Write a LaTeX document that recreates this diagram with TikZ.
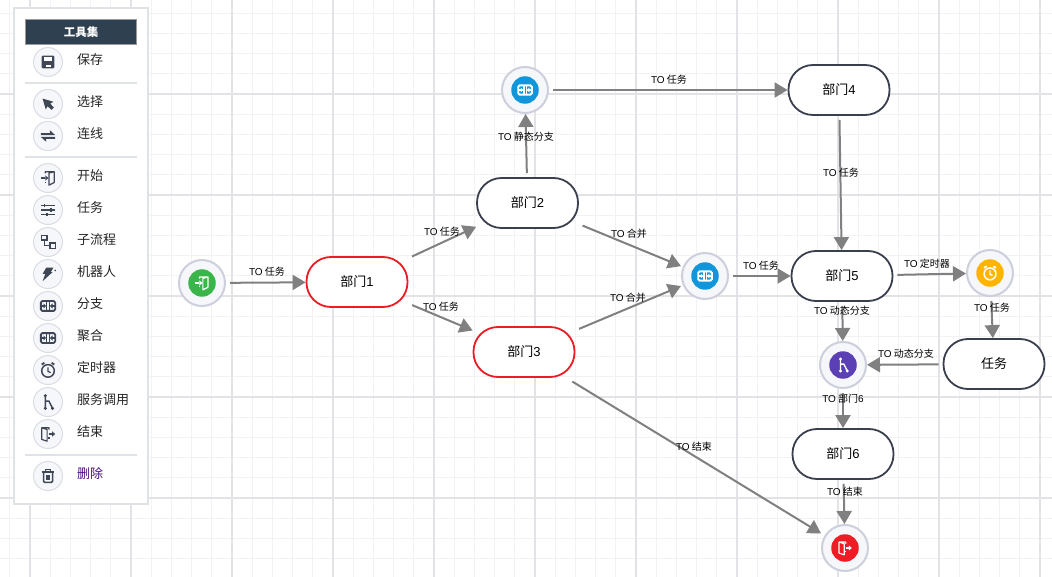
\documentclass[tikz,border=0pt]{standalone}
\usepackage{fontspec}
\setmainfont{Noto Sans CJK SC}
\newfontfamily\latf{Liberation Sans}
\usetikzlibrary{arrows.meta}
\definecolor{gridminor}{HTML}{F2F2F6}
\definecolor{gridmajor}{HTML}{E2E2E7}
\definecolor{panelline}{HTML}{DFE2E7}
\definecolor{headbg}{HTML}{2F4050}
\definecolor{ringline}{HTML}{CDD0DC}
\definecolor{toolline}{HTML}{DADCE4}
\definecolor{ringfill}{HTML}{F6F7FA}
\definecolor{icondark}{HTML}{3F4656}
\definecolor{deptline}{HTML}{3A3F4E}
\definecolor{deptred}{HTML}{EC1C24}
\definecolor{conncol}{HTML}{808080}
\definecolor{cgreen}{HTML}{39B54A}
\definecolor{cblue}{HTML}{1296DB}
\definecolor{cpurple}{HTML}{5B3FB5}
\definecolor{camber}{HTML}{FFB400}
\definecolor{cred}{HTML}{EE1C25}
\definecolor{delcol}{HTML}{4B1080}
\tikzset{
  dept/.style={rectangle,draw=deptline,fill=white,line width=1.8pt,minimum width=101pt,minimum height=50pt,inner sep=0pt,rounded corners=24.5pt,font=\fontsize{13}{15}\selectfont,text=black},
  deptr/.style={dept,draw=deptred},
  ring/.style={rectangle,draw=ringline,fill=ringfill,line width=2pt,minimum size=46pt,inner sep=0pt,rounded corners=23pt},
  dot/.style={circle,fill=#1,minimum size=27.5pt,inner sep=0pt},
  conn/.style={draw=conncol,line width=2pt,-{Triangle[length=13pt,width=15pt,fill=conncol]},shorten <=4pt},
  lab/.style={font=\fontsize{10}{11}\selectfont,text=black,inner sep=0pt},
  toolring/.style={circle,draw=toolline,fill=ringfill,line width=1pt,minimum size=29pt,inner sep=0pt},
  toollab/.style={anchor=west,font=\fontsize{13}{15}\selectfont,text=black!85,inner sep=0pt},
  pics/icsave/.style={code={
    \fill[rounded corners=1pt] (-7,-7) rectangle (7,7);
    \fill[white] (-4.5,-5.5) rectangle (4.5,-1.5);
    \fill[white] (-2,3) rectangle (3,6);
  }},
  pics/icselect/.style={code={
    \fill (-6,-6) -- (6,-2.5) -- (2.5,-.5) -- (6.5,4) -- (4,6.5) -- (-.5,2.5) -- (-2.5,6) -- cycle;
  }},
  pics/icswap/.style={code={
    \fill (-8,-3.2) -- (2,-3.2) -- (2,-6.5) -- (8,-1) -- (-8,-1) -- cycle;
    \fill (8,3.2) -- (-2,3.2) -- (-2,6.5) -- (-8,1) -- (8,1) -- cycle;
  }},
  pics/icenter/.style={code={
    \draw[line width=1.2pt,line join=round] (-3,-5) -- (-3,-7) -- (7,-7) -- (7,5) -- (1,8) -- (1,-5.5) -- (7,-7);
    \draw[line width=1.2pt] (-3,5) -- (-3,4);
    \draw[line width=1.4pt] (-8,0) -- (-3,0);
    \fill (-3,-3) -- (0.5,0) -- (-3,3) -- cycle;
  }},
  pics/icsliders/.style={code={
    \draw[line width=1.5pt] (-8,-5) -- (8,-5) (-8,0) -- (8,0) (-8,5) -- (8,5);
    \fill (-5,-7) rectangle (-3,-3);
    \fill (2,-2) rectangle (4,2);
    \fill (-2,3) rectangle (0,7);
  }},
  pics/icflow/.style={code={
    \draw[line width=1.4pt] (-7,-7) rectangle (-1,-2);
    \draw[line width=1.4pt] (2,1) rectangle (8,7);
    \draw[line width=1.4pt] (-4,-2) -- (-4,4) -- (2,4);
  }},
  pics/icrobot/.style={code={
    \fill (-6,8) -- (-3,0) -- (-6,0) -- (-2,-7) -- (6,-7) -- (3,-2) -- (5,-2) -- cycle;
    \fill (8,-4) circle (1pt);
  }},
  pics/icmerge/.style={code={
    \draw[line width=1.9pt,rounded corners=1.5pt] (-8,-5.5) rectangle (8,5.5);
    \draw[line width=1.2pt] (-1.3,-5.5) -- (-1.3,5.5) (1.3,-5.5) -- (1.3,5.5);
    \draw[line width=1.2pt] (-8,0) -- (-3,0) (8,0) -- (3,0);
    \fill (-2,0) -- (-5,-2.8) -- (-5,2.8) -- cycle;
    \fill (2,0) -- (5,-2.8) -- (5,2.8) -- cycle;
  }},
  pics/ictimer/.style={code={
    \draw[line width=1.5pt] (0,1) circle (7pt);
    \draw[line width=1.2pt] (0,-3) -- (0,1.5) -- (3,3);
    \draw[line width=1.8pt] (-7,-6) -- (-4,-8) (7,-6) -- (4,-8);
  }},
  pics/icbranch/.style={code={
    \draw[line width=1.4pt] (-3,-7) -- (-3,8) (-3,-1) -- (1,-1) -- (5,7);
    \fill (-3,-7) circle (1.9pt);
    \fill (-3,7) circle (1.9pt);
    \fill (5,7) circle (1.9pt);
  }},
  pics/icexit/.style={code={
    \draw[line width=1.2pt,line join=round] (1,-5) -- (1,-7) -- (-7,-7) -- (-7,6) -- (-1,8) -- (-1,-5) -- (-7,-7);
    \draw[line width=1.2pt] (1,5) -- (1,3);
    \draw[line width=1.4pt] (1,0) -- (5,0);
    \fill (4.5,-3) -- (8,0) -- (4.5,3) -- cycle;
  }},
  pics/ictrash/.style={code={
    \draw[line width=1.5pt,rounded corners=1pt] (-5,-4) -- (-5,7) -- (5,7) -- (5,-4);
    \draw[line width=1.6pt] (-7,-4.5) -- (7,-4.5);
    \draw[line width=1.3pt] (-2.5,-4.5) -- (-2.5,-7) -- (2.5,-7) -- (2.5,-4.5);
    \fill (-2.5,-1) rectangle (2.5,4);
  }},
}
\newcommand{\TO}[1]{{\latf TO} #1}
\newcommand{\toolitem}[4]{%
  \node[toolring] (icon#1) at (48,#2) {};
  \pic[color=icondark,scale=.9] at (icon#1) {#3};
  \node[toollab] (text#1) at (77,#2-2) {#4};
}
\begin{document}
\begin{tikzpicture}[x=1pt,y=-1pt]
\useasboundingbox (0,0) rectangle (1052,577);
\fill[white] (0,0) rectangle (1052,577);
% grid
\foreach \k in {0,...,52} {\draw[gridminor,line width=1pt] ({9.8+20.2*\k},0) -- ({9.8+20.2*\k},577);}
\foreach \k in {0,...,28} {\draw[gridminor,line width=1pt] (0,{13.2+20.2*\k}) -- (1052,{13.2+20.2*\k});}
\foreach \k in {0,...,10} {\draw[gridmajor,line width=2pt] ({30+101*\k},0) -- ({30+101*\k},577);}
\foreach \k in {0,...,4} {\draw[gridmajor,line width=2pt] (0,{94+101*\k}) -- (1052,{94+101*\k});}
% toolbox
\node[rectangle,draw=panelline,fill=white,line width=2pt,minimum width=134pt,minimum height=496pt,inner sep=0pt] (panel) at (81,256) {};
\node[rectangle,draw=black!40,fill=headbg,line width=.8pt,minimum width=111pt,minimum height=25pt,inner sep=0pt,text=white,font=\fontsize{11.5}{13}\selectfont\bfseries] (head) at (81,32) {工具集};
\draw[panelline,line width=2pt] (25,83) -- (137,83);
\draw[panelline,line width=2pt] (25,157) -- (137,157);
\draw[panelline,line width=2pt] (25,455) -- (137,455);
\toolitem{a}{62}{icsave}{保存}
\toolitem{b}{104}{icselect}{选择}
\toolitem{c}{136}{icswap}{连线}
\toolitem{d}{178}{icenter}{开始}
\toolitem{e}{210}{icsliders}{任务}
\toolitem{f}{242}{icflow}{子流程}
\toolitem{g}{274}{icrobot}{机器人}
\toolitem{h}{306}{icmerge}{分支}
\toolitem{i}{338}{icmerge}{聚合}
\toolitem{j}{370}{ictimer}{定时器}
\toolitem{k}{402}{icbranch}{服务调用}
\toolitem{l}{434}{icexit}{结束}
\toolitem{m}{476}{ictrash}{\textcolor{delcol}{删除}}
% flow nodes
\node[ring] (start) at (202,283) {};
\node[dot=cgreen] (startd) at (start) {};
\pic[color=white,scale=.85] at (start) {icenter};
\node[ring] (split) at (525,90) {};
\node[dot=cblue] (splitd) at (split) {};
\pic[color=white,scale=.85] at (split) {icmerge};
\node[ring] (join) at (705,276) {};
\node[dot=cblue] (joind) at (join) {};
\pic[color=white,scale=.85] at (join) {icmerge};
\node[ring] (timer) at (990,273) {};
\node[dot=camber] (timerd) at (timer) {};
\pic[color=white,scale=.85] at (timer) {ictimer};
\node[ring] (branch) at (843,365) {};
\node[dot=cpurple] (branchd) at (branch) {};
\pic[color=white,scale=.85] at (branch) {icbranch};
\node[ring] (stop) at (845,548) {};
\node[dot=cred] (stopd) at (stop) {};
\pic[color=white,scale=.85] at (stop) {icexit};
\node[deptr] (d1) at (357,282) {部门{\latf 1}};
\node[dept] (d2) at (527.5,203) {部门{\latf 2}};
\node[deptr] (d3) at (524,352) {部门{\latf 3}};
\node[dept] (d4) at (839,90) {部门{\latf 4}};
\node[dept] (d5) at (842,276) {部门{\latf 5}};
\node[dept] (d6) at (843,454) {部门{\latf 6}};
\node[dept] (task) at (994,364) {任务};
% connectors
\draw[conn] (start) -- (d1);
\draw[conn] (d1) -- (d2);
\draw[conn] (d1) -- (d3);
\draw[conn] (d2) -- (split);
\draw[conn] (split) -- (d4);
\draw[conn] (d4) -- (d5);
\draw[conn] (d2) -- (join);
\draw[conn] (d3) -- (join);
\draw[conn] (join) -- (d5);
\draw[conn] (d5) -- (timer);
\draw[conn] (timer) -- (task);
\draw[conn] (task) -- (branch);
\draw[conn] (d5) -- (branch);
\draw[conn] (branch) -- (d6);
\draw[conn] (d6) -- (stop);
\draw[conn,shorten <=7pt] (d3) -- (stop);
% labels
\node[lab] (l1) at (267,272) {\TO{任务}};
\node[lab] (l2) at (442,232) {\TO{任务}};
\node[lab] (l3) at (441,307) {\TO{任务}};
\node[lab] (l4) at (526,137) {\TO{静态分支}};
\node[lab] (l5) at (629,234) {\TO{合并}};
\node[lab] (l6) at (628,298) {\TO{合并}};
\node[lab] (l7) at (669,80) {\TO{任务}};
\node[lab] (l8) at (841,173) {\TO{任务}};
\node[lab] (l9) at (761,266) {\TO{任务}};
\node[lab] (l10) at (927,264) {\TO{定时器}};
\node[lab] (l11) at (842,311) {\TO{动态分支}};
\node[lab] (l12) at (992,308) {\TO{任务}};
\node[lab] (l13) at (906,354) {\TO{动态分支}};
\node[lab] (l14) at (843,399) {\TO{部门{\latf 6}}};
\node[lab] (l15) at (694,447) {\TO{结束}};
\node[lab] (l16) at (845,492) {\TO{结束}};
\end{tikzpicture}
\end{document}
